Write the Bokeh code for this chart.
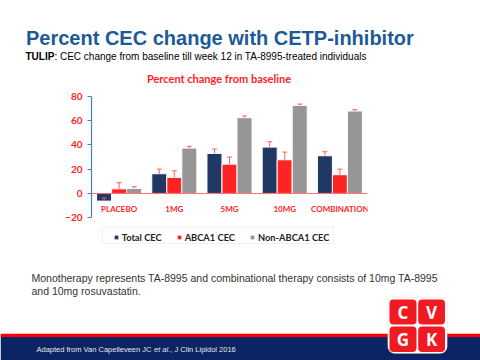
from bokeh.plotting import figure
from bokeh.layouts import column
from bokeh.models import (FactorRange, Range1d, LinearAxis, FixedTicker, Label, Span,
                          BoxAnnotation, Legend, LegendItem, ColumnDataSource)
from bokeh.core.properties import value
from bokeh.transform import dodge
from bokeh.embed import file_html
from bokeh.resources import INLINE

# ---------------- data ----------------
categories = ["PLACEBO", "1MG", "5MG", "10MG", "COMBINATION"]
series_names = ["Total CEC", "ABCA1 CEC", "Non-ABCA1 CEC"]
total_cec = [-6.3, 16.2, 32.9, 38.1, 31.0]
total_err = [2.5, 3.8, 3.6, 4.4, 3.3]
abca1_cec = [3.8, 13.2, 24.1, 27.7, 15.4]
abca1_err = [5.0, 5.4, 5.8, 6.3, 4.6]
non_abca1_cec = [4.1, 37.3, 62.3, 72.4, 67.8]
non_abca1_err = [1.4, 1.4, 1.4, 1.1, 1.1]
y_ticks = [-20, 0, 20, 40, 60, 80]

# ---------------- styles ----------------
NAVY = "#1F3864"
RED = "#FF2424"
GRAY = "#969696"
ERR = "#FF6060"
TITLE_BLUE = "#1C5A98"
W = 480
TOP_H, CHART_H, BOT_H = 88, 170, 102
FRAME_LEFT, FRAME_W = 91, 276


def blank(height, y0):
    f = figure(width=W, height=height, x_range=Range1d(0, W), y_range=Range1d(y0 + height, y0),
               output_backend="svg", toolbar_location=None, title_location=None,
               x_axis_location=None, y_axis_location=None, frame_align=False,
               min_border_left=0, min_border_right=0, min_border_top=0, min_border_bottom=0)
    f.outline_line_color = None
    f.background_fill_color = "white"
    f.border_fill_color = "white"
    for g in f.grid:
        g.visible = False
    return f


def label(f, text, x, y, size, color="#000000", font="Liberation Sans", style="normal",
          align="left", baseline="middle"):
    lab = Label(x=x, y=y, text=text, text_font=font, text_font_size=size, text_color=color,
                text_font_style=style, text_align=align, text_baseline=baseline)
    f.add_layout(lab)
    return lab


# ================= top: slide title =================
top = blank(TOP_H, 0)
label(top, "Percent CEC change with CETP-inhibitor", 25.5, 37.6, "20px", TITLE_BLUE, style="bold")
label(top, "TULIP", 25, 55.6, "10px", "#000000", style="bold")
label(top, ": CEC change from baseline till week 12 in TA-8995-treated individuals",
      53.9, 55.6, "10px", "#000000")
label(top, "Percent change from baseline", 218.5, 77.5, "11px", RED, font="Lato",
      style="bold", align="center")

# ================= chart =================
p = figure(width=W, height=CHART_H, x_range=FactorRange(factors=categories, range_padding=0),
           y_range=Range1d(-53.5, 86.3), output_backend="svg", toolbar_location=None,
           title_location=None,
           x_axis_location=None, y_axis_location=None, frame_align=False,
           min_border_left=FRAME_LEFT, min_border_right=W - FRAME_LEFT - FRAME_W,
           min_border_top=0, min_border_bottom=0)
p.outline_line_color = None
p.background_fill_color = "white"
p.border_fill_color = "white"
for g in p.grid:
    g.visible = False

src = ColumnDataSource(dict(
    cat=categories,
    total=total_cec, total_up=[v + e for v, e in zip(total_cec, total_err)],
    abca1=abca1_cec, abca1_up=[v + e for v, e in zip(abca1_cec, abca1_err)],
    non=non_abca1_cec, non_up=[v + e for v, e in zip(non_abca1_cec, non_abca1_err)],
))

BAR_W = 0.272
offsets = [-BAR_W, 0.0, BAR_W]
cols = [("total", "total_up"), ("abca1", "abca1_up"), ("non", "non_up")]
colors = [NAVY, RED, GRAY]
bars = []
for (col, up), off, c in zip(cols, offsets, colors):
    xd = dodge("cat", off, range=p.x_range)
    r = p.vbar(x=xd, top=col, bottom=0, width=BAR_W, source=src,
               fill_color=c, line_color="white", line_width=1)
    bars.append(r)
for (col, up), off in zip(cols, offsets):
    xd = dodge("cat", off, range=p.x_range)
    p.segment(x0=xd, y0=col, x1=xd, y1=up, source=src, line_color=ERR, line_width=1)
    p.scatter(x=xd, y=up, source=src, marker="dash", size=5, line_color=ERR, line_width=1)

# zero line
p.add_layout(Span(location=0, dimension="width", line_color="#FF6A6A", line_width=1))

# category labels just under zero
LABEL_Y = -12.6
p.text(x="cat", y=LABEL_Y, text="cat", source=src, text_font=value("Lato"),
       text_font_style="bold", text_font_size="8px", text_color=RED,
       text_align="center", text_baseline="middle")

# y axis
yaxis = LinearAxis(ticker=FixedTicker(ticks=y_ticks), bounds=(-20, 80))
yaxis.axis_line_color = "#4A7EBB"
yaxis.axis_line_width = 1.2
yaxis.major_tick_line_color = "#4A7EBB"
yaxis.major_tick_out = 4
yaxis.major_tick_in = 0
yaxis.minor_tick_line_color = None
yaxis.major_label_text_color = RED
yaxis.major_label_text_font = "Lato"
yaxis.major_label_text_font_style = "bold"
yaxis.major_label_text_font_size = "10px"
yaxis.major_label_standoff = 5
p.add_layout(yaxis, "left")

# legend box + legend
FRAME_BOTTOM_PAGE = 88 + CHART_H
p.add_layout(BoxAnnotation(left=101.7 - FRAME_LEFT, right=333 - FRAME_LEFT,
                           top=FRAME_BOTTOM_PAGE - 226.7, bottom=FRAME_BOTTOM_PAGE - 243,
                           left_units="screen", right_units="screen", top_units="screen",
                           bottom_units="screen", fill_color="white", fill_alpha=1,
                           line_color="#D0D0D0", line_width=1))
legend = Legend(items=[LegendItem(label=n, renderers=[r]) for n, r in zip(series_names, bars)],
                orientation="horizontal", location=(112.7 - FRAME_LEFT, FRAME_BOTTOM_PAGE - 242.5))
legend.glyph_width = 6
legend.glyph_height = 6
legend.label_text_font = "Lato"
legend.label_text_font_style = "bold"
legend.label_text_font_size = "9.3px"
legend.label_text_color = "#222222"
legend.label_standoff = 3
legend.label_height = 10
legend.spacing = 14
legend.padding = 3
legend.margin = 0
legend.border_line_color = None
legend.background_fill_alpha = 0
p.add_layout(legend, "center")

# ================= bottom: footnote + footer =================
bot = blank(BOT_H, 88 + CHART_H)
label(bot, "Monotherapy represents TA-8995 and combinational therapy consists of 10mg TA-8995",
      31, 277, "10.5px", "#333333")
label(bot, "and 10mg rosuvastatin.", 31, 290.6, "10.5px", "#333333")

bot.add_layout(BoxAnnotation(left=0, right=W, top=333.3, bottom=336.5,
                             fill_color="#FF0000", fill_alpha=1, line_color=None))
bot.add_layout(BoxAnnotation(left=0, right=W, top=336.5, bottom=362,
                             fill_color="#0C2463", fill_alpha=1, line_color=None))
label(bot, "Adapted from Van Capelleveen JC ", 36, 349, "7.5px", "#E6E6E6")
label(bot, "et al.", 153.5, 349, "7.5px", "#E6E6E6", style="italic")
label(bot, ", J Clin Lipidol 2016", 169.8, 349, "7.5px", "#E6E6E6")

# logo
bot.add_layout(BoxAnnotation(left=387.3, right=446.7, top=296.7, bottom=353,
                             fill_color="white", fill_alpha=1,
                             line_color="#C8C8C8", line_width=1, border_radius=7))
logo_letters = ["C", "V", "G", "K"]
cells = [(389, 416, 299, 324), (417.7, 444.5, 299, 324),
         (389, 416, 326, 351.5), (417.7, 444.5, 326, 351.5)]
for letter, (l, r, t, b) in zip(logo_letters, cells):
    bot.add_layout(BoxAnnotation(left=l, right=r, top=t, bottom=b,
                                 fill_color="#F01B22", fill_alpha=1,
                                 line_color=None, border_radius=4))
    label(bot, letter, (l + r) / 2, (t + b) / 2 + 0.5, "17px", "white", font="Open Sans",
          style="bold", align="center")

open("out.html", "w").write(file_html(column(top, p, bot, spacing=0), INLINE))
